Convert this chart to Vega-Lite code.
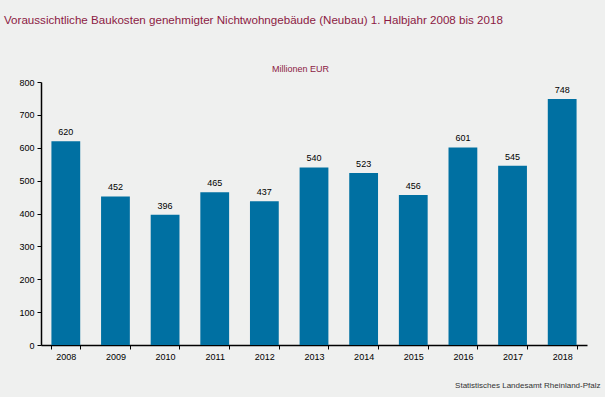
{
  "$schema": "https://vega.github.io/schema/vega-lite/v6.json",
  "width": 546,
  "height": 263,
  "autosize": {"type": "none"},
  "padding": {"left": 41, "top": 82, "right": 18, "bottom": 52},
  "background": "#eff0ef",
  "config": {
    "view": {"stroke": null},
    "font": "Liberation Sans"
  },
  "title": {
    "text": "Voraussichtliche Baukosten genehmigter Nichtwohngebäude (Neubau) 1. Halbjahr 2008 bis 2018",
    "anchor": "start",
    "frame": "group",
    "dx": -37,
    "dy": 3,
    "offset": 40,
    "fontSize": 11.6,
    "fontWeight": "normal",
    "color": "#8c1a43",
    "font": "Liberation Sans"
  },
  "data": {
    "values": [
      {"jahr": "2008", "wert": 620},
      {"jahr": "2009", "wert": 452},
      {"jahr": "2010", "wert": 396},
      {"jahr": "2011", "wert": 465},
      {"jahr": "2012", "wert": 437},
      {"jahr": "2013", "wert": 540},
      {"jahr": "2014", "wert": 523},
      {"jahr": "2015", "wert": 456},
      {"jahr": "2016", "wert": 601},
      {"jahr": "2017", "wert": 545},
      {"jahr": "2018", "wert": 748}
    ]
  },
  "encoding": {
    "x": {
      "field": "jahr",
      "type": "nominal",
      "scale": {"paddingInner": 0.42, "paddingOuter": 0.21},
      "axis": {
        "title": "Statistisches Landesamt Rheinland-Pfalz",
        "titleX": 559,
        "titleY": 44,
        "titleAlign": "right",
        "titleBaseline": "bottom",
        "titleFontSize": 8,
        "titleFontWeight": "normal",
        "titleColor": "#333333",
        "labelAngle": 0,
        "labelFontSize": 9,
        "labelColor": "#000000",
        "labelPadding": 3,
        "tickBand": "extent",
        "tickSize": 4,
        "tickColor": "#000000",
        "domainColor": "#000000",
        "domainWidth": 1.5
      }
    },
    "y": {
      "field": "wert",
      "type": "quantitative",
      "scale": {"domain": [0, 800], "nice": false},
      "axis": {
        "title": "Millionen EUR",
        "titleAngle": 0,
        "titleX": 259,
        "titleY": -14,
        "titleAlign": "center",
        "titleBaseline": "middle",
        "titleFontSize": 9,
        "titleFontWeight": "normal",
        "titleColor": "#8c1a43",
        "values": [0, 100, 200, 300, 400, 500, 600, 700, 800],
        "labelFontSize": 9,
        "labelColor": "#000000",
        "labelPadding": 3,
        "tickSize": 4,
        "tickColor": "#000000",
        "domainColor": "#000000",
        "domainWidth": 1.5,
        "grid": false
      }
    }
  },
  "layer": [
    {"mark": {"type": "bar", "color": "#0070a2"}},
    {
      "mark": {"type": "text", "dy": -9, "fontSize": 9, "color": "#000000"},
      "encoding": {"text": {"field": "wert", "type": "quantitative"}}
    }
  ]
}
